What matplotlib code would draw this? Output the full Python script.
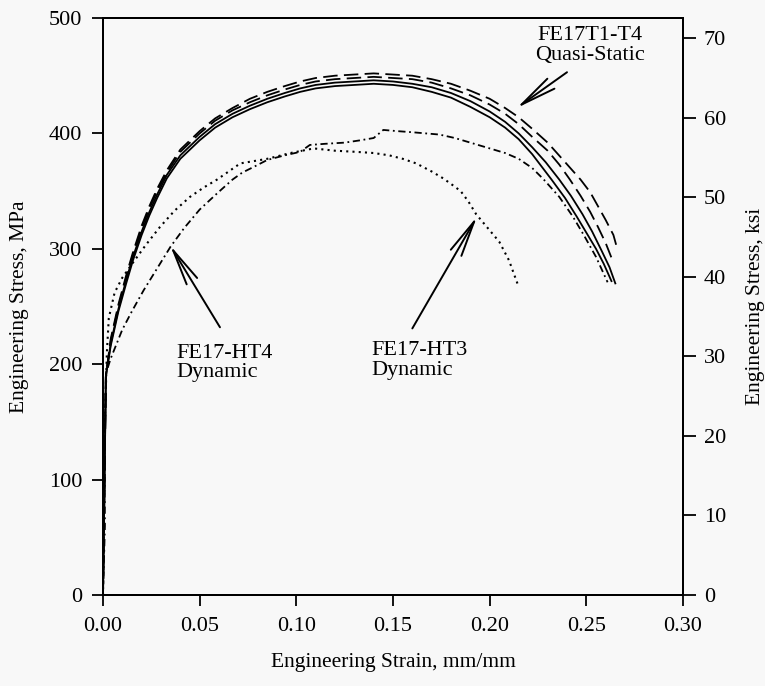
import matplotlib
matplotlib.use("Agg")
import matplotlib.pyplot as plt

plt.rcParams["font.family"] = ["Liberation Serif", "DejaVu Serif"]

# quasi-static tests FE17T1-T4 (strain mm/mm, stress MPa)
qs_a_strain = [0, 0.0015, 0.004, 0.008, 0.012, 0.0155, 0.02, 0.024, 0.028, 0.033, 0.04, 0.05, 0.058, 0.067, 0.076, 0.085, 0.094, 0.102, 0.11, 0.12, 0.13, 0.14, 0.15, 0.16, 0.17, 0.18, 0.19, 0.2, 0.208, 0.215, 0.222, 0.23, 0.238, 0.247, 0.252, 0.256, 0.26, 0.264, 0.266]
qs_a_stress = [0, 190, 222, 252, 277, 297, 320, 337, 352, 368, 386, 402, 413, 422, 430, 436, 441, 445, 448, 450, 451, 452, 451, 450, 447, 443, 437, 430, 422, 414, 404, 392, 377, 360, 349, 337, 325, 312, 300]
qs_b_strain = [0, 0.0015, 0.004, 0.008, 0.012, 0.0155, 0.02, 0.024, 0.028, 0.033, 0.04, 0.05, 0.058, 0.067, 0.076, 0.085, 0.094, 0.102, 0.11, 0.12, 0.13, 0.14, 0.15, 0.16, 0.17, 0.18, 0.19, 0.2, 0.208, 0.215, 0.222, 0.23, 0.236, 0.2415, 0.247, 0.252, 0.256, 0.26, 0.264]
qs_b_stress = [0, 190, 220, 250, 275, 295, 318, 335, 350, 366, 384, 400, 411, 420, 427, 433, 438, 442, 445, 447, 448, 449, 448, 447, 444, 439, 433, 425, 417, 408, 397, 385, 373, 360, 346, 332, 319, 305, 288]
qs_c_strain = [0, 0.0015, 0.004, 0.008, 0.012, 0.0155, 0.02, 0.024, 0.028, 0.033, 0.04, 0.05, 0.058, 0.067, 0.076, 0.085, 0.094, 0.102, 0.11, 0.12, 0.13, 0.14, 0.15, 0.16, 0.17, 0.18, 0.19, 0.2, 0.208, 0.215, 0.222, 0.229, 0.236, 0.242, 0.248, 0.253, 0.258, 0.262, 0.265]
qs_c_stress = [0, 190, 218, 248, 273, 293, 315, 332, 347, 364, 381, 397, 408, 417, 424, 430, 435, 439, 442, 444, 445, 446, 445, 443, 440, 435, 428, 419, 410, 400, 388, 375, 360, 346, 330, 315, 298, 284, 270]
qs_d_strain = [0, 0.0015, 0.004, 0.008, 0.012, 0.0155, 0.02, 0.024, 0.028, 0.033, 0.04, 0.05, 0.058, 0.067, 0.076, 0.085, 0.094, 0.102, 0.11, 0.12, 0.13, 0.14, 0.15, 0.16, 0.17, 0.18, 0.19, 0.2, 0.208, 0.215, 0.222, 0.227, 0.232, 0.239, 0.245, 0.25, 0.255, 0.259, 0.263]
qs_d_stress = [0, 190, 216, 246, 270, 290, 312, 329, 344, 361, 378, 394, 405, 414, 421, 427, 432, 436, 439, 441, 442, 443, 442, 440, 436, 431, 423, 414, 405, 395, 382, 371, 360, 344, 328, 314, 300, 287, 272]

# dynamic FE17-HT4
ht4_strain = [0, 0.001, 0.0008, 0.0015, 0.004, 0.010, 0.015, 0.021, 0.028, 0.035, 0.042, 0.05, 0.059, 0.067, 0.072, 0.078, 0.085, 0.094, 0.102, 0.107, 0.115, 0.125, 0.133, 0.14, 0.145, 0.152, 0.16, 0.174, 0.182, 0.19, 0.2, 0.208, 0.215, 0.222, 0.228, 0.236, 0.243, 0.249, 0.255, 0.261]
ht4_stress = [0, 60, 120, 192, 205, 230, 246, 264, 283, 302, 318, 334, 348, 360, 366, 371, 377, 381, 384, 390, 391, 392, 394, 396, 403, 402, 401, 399, 396, 392, 387, 383, 378, 370, 360, 345, 328, 311, 293, 271]

# dynamic FE17-HT3
ht3_strain = [0, 0.001, 0.002, 0.003, 0.006, 0.01, 0.0155, 0.022, 0.0295, 0.037, 0.045, 0.052, 0.059, 0.065, 0.071, 0.078, 0.085, 0.097, 0.109, 0.12, 0.131, 0.14, 0.148, 0.155, 0.162, 0.17, 0.176, 0.181, 0.185, 0.189, 0.193, 0.199, 0.205, 0.21, 0.215]
ht3_stress = [0, 150, 210, 240, 262, 275, 288, 303, 319, 333, 345, 353, 360, 367, 374, 376, 378, 383, 387, 385, 384, 383, 381, 378, 374, 367, 361, 355, 350, 341, 330, 318, 306, 290, 267]

x_ticks = [0.00, 0.05, 0.10, 0.15, 0.20, 0.25, 0.30]
y_ticks = [0, 100, 200, 300, 400, 500]
ksi_ticks = [0, 10, 20, 30, 40, 50, 60, 70]
MPA_PER_KSI = 6.894757

bg = "#f8f8f8"
fig = plt.figure(figsize=(7.65, 6.86), dpi=100, facecolor=bg)
ax = fig.add_axes([103 / 765, 1 - 595 / 686, 580 / 765, 577 / 686], facecolor=bg)

k = dict(color="black", lw=1.3)
ax.plot(qs_a_strain, qs_a_stress, ls=(0, (8, 3.5)), **k)
ax.plot(qs_b_strain, qs_b_stress, ls=(0, (8, 3.5)), **k)
ax.plot(qs_c_strain, qs_c_stress, ls="-", **k)
ax.plot(qs_d_strain, qs_d_stress, ls="-", **k)
ax.plot(ht4_strain, ht4_stress, ls=(0, (4, 2, 1, 2)), **k)
ax.plot(ht3_strain, ht3_stress, color="black", lw=1.5, ls=(0, (1, 2)))

ax.set_xlim(0, 0.30)
ax.set_ylim(0, 500)
ax.set_xticks(x_ticks)
ax.set_xticklabels(["%.2f" % v for v in x_ticks])
ax.set_yticks(y_ticks)
ax.tick_params(labelsize=16, length=8, width=1.3, direction="out", pad=7)
ax.tick_params(axis="x", pad=8)
for s in ax.spines.values():
    s.set_linewidth(1.4)

ax2 = ax.twinx()
ax2.set_ylim(0, 500 / MPA_PER_KSI)
ax2.set_yticks(ksi_ticks)
ax2.tick_params(labelsize=16, length=9, width=1.3, direction="out", pad=6)
for s in ax2.spines.values():
    s.set_linewidth(1.4)

ax.set_xlabel("Engineering Strain, mm/mm", fontsize=15.5, labelpad=12)
ax.set_ylabel("Engineering Stress, MPa", fontsize=15.5, labelpad=14)
ax2.set_ylabel("Engineering Stress, ksi", fontsize=15.5, labelpad=14)

arr = dict(arrowstyle="->,head_length=1.3,head_width=0.22", color="black", lw=1.4, mutation_scale=20, shrinkA=0, shrinkB=0)
ax.annotate("", xy=(0.214, 422), xytext=(0.240, 453), arrowprops=arr)
ax.text(0.252, 476, "FE17T1-T4\nQuasi-Static", fontsize=16, ha="center", va="center", linespacing=1.05)
ax.annotate("", xy=(0.0347, 303), xytext=(0.0605, 232), arrowprops=arr)
ax.text(0.038, 201, "FE17-HT4\nDynamic", fontsize=16, ha="left", va="center", linespacing=1.05)
ax.annotate("", xy=(0.1935, 328), xytext=(0.160, 231), arrowprops=arr)
ax.text(0.139, 203, "FE17-HT3\nDynamic", fontsize=16, ha="left", va="center", linespacing=1.05)

fig.savefig("out.png", dpi=100, facecolor=bg)
